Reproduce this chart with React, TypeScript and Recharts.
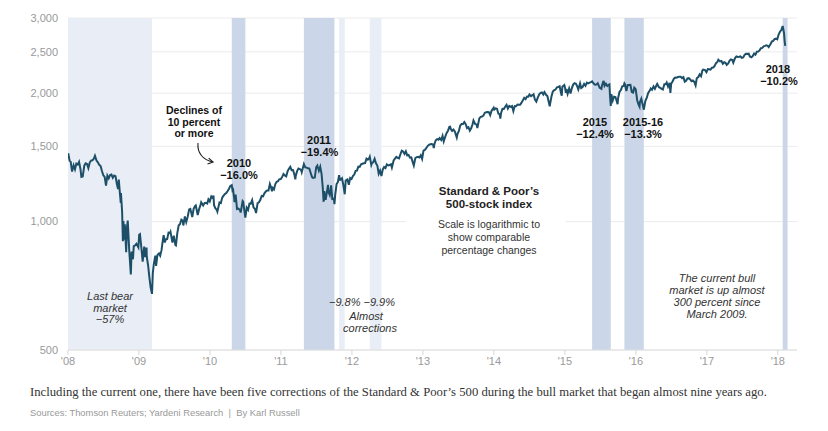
import { ComposedChart, Line, XAxis, YAxis, CartesianGrid, ReferenceArea } from "recharts";

// S&P 500 closes, roughly weekly
const y2008: [string, number][] = [
  ["01-02", 1447], ["01-09", 1390], ["01-15", 1380], ["01-22", 1310], ["01-30", 1355], ["02-06", 1326], ["02-13", 1367],
  ["02-20", 1360], ["02-27", 1380], ["03-05", 1330], ["03-10", 1273], ["03-17", 1276], ["03-25", 1352], ["04-01", 1370],
  ["04-08", 1365], ["04-15", 1334], ["04-22", 1375], ["04-29", 1390], ["05-06", 1392], ["05-13", 1403], ["05-19", 1426],
  ["05-27", 1390], ["06-03", 1377], ["06-10", 1358], ["06-17", 1350], ["06-24", 1314], ["07-01", 1284], ["07-08", 1273],
  ["07-15", 1214], ["07-22", 1282], ["07-29", 1263], ["08-05", 1285], ["08-12", 1289], ["08-19", 1266], ["08-26", 1282],
  ["09-02", 1277], ["09-09", 1225], ["09-15", 1192], ["09-19", 1255], ["09-23", 1188], ["09-29", 1106], ["09-30", 1166],
  ["10-06", 1056], ["10-10", 899], ["10-13", 1003], ["10-15", 907], ["10-20", 985], ["10-27", 848], ["10-31", 968],
  ["11-04", 1005], ["11-12", 852], ["11-20", 752], ["11-24", 851], ["12-01", 816], ["12-05", 876], ["12-12", 879],
  ["12-19", 887], ["12-29", 870],
];
const y2009: [string, number][] = [
  ["01-02", 931], ["01-06", 934], ["01-13", 871], ["01-20", 805], ["01-23", 832], ["01-28", 874], ["02-02", 825],
  ["02-09", 869], ["02-10", 827], ["02-17", 789], ["02-23", 743], ["03-02", 700], ["03-09", 677], ["03-13", 756],
  ["03-18", 794], ["03-26", 832], ["03-30", 787], ["04-06", 835], ["04-14", 842], ["04-20", 832], ["04-27", 857],
  ["05-04", 907], ["05-08", 929], ["05-14", 893], ["05-19", 909], ["05-26", 910], ["06-02", 942], ["06-09", 939],
  ["06-12", 946], ["06-22", 893], ["06-29", 927], ["07-07", 881], ["07-10", 879], ["07-17", 940], ["07-24", 979],
  ["07-31", 987], ["08-07", 1010], ["08-14", 1004], ["08-17", 979], ["08-25", 1028], ["09-01", 998], ["09-08", 1025],
  ["09-16", 1068], ["09-22", 1071], ["10-02", 1025], ["10-09", 1071], ["10-16", 1087], ["10-20", 1091], ["10-30", 1036],
  ["11-06", 1069], ["11-13", 1093], ["11-17", 1110], ["11-27", 1091], ["12-04", 1105], ["12-11", 1106], ["12-18", 1102],
  ["12-24", 1127], ["12-31", 1115],
];
const y2010: [string, number][] = [
  ["01-08", 1145], ["01-15", 1136], ["01-19", 1150], ["01-22", 1092], ["01-29", 1074], ["02-05", 1066], ["02-08", 1056],
  ["02-12", 1075], ["02-19", 1109], ["02-26", 1105], ["03-05", 1138], ["03-12", 1150], ["03-19", 1160], ["03-26", 1167],
  ["04-02", 1179], ["04-09", 1194], ["04-15", 1211], ["04-23", 1217], ["04-27", 1183], ["04-30", 1187], ["05-06", 1128],
  ["05-07", 1111], ["05-13", 1157], ["05-20", 1071], ["05-25", 1074], ["06-04", 1065], ["06-08", 1050], ["06-18", 1117],
  ["06-21", 1113], ["06-25", 1076], ["07-02", 1022], ["07-09", 1078], ["07-16", 1065], ["07-23", 1102], ["07-30", 1101],
  ["08-06", 1122], ["08-13", 1079], ["08-20", 1071], ["08-26", 1047], ["09-03", 1105], ["09-10", 1110], ["09-17", 1125],
  ["09-24", 1148], ["10-01", 1146], ["10-08", 1165], ["10-15", 1176], ["10-22", 1183], ["10-29", 1183], ["11-05", 1225],
  ["11-12", 1199], ["11-16", 1178], ["11-19", 1199], ["11-26", 1189], ["12-03", 1224], ["12-10", 1240], ["12-17", 1243],
  ["12-23", 1256], ["12-31", 1258],
];
const y2011: [string, number][] = [
  ["01-07", 1271], ["01-14", 1293], ["01-21", 1283], ["01-28", 1276], ["02-04", 1311], ["02-11", 1329], ["02-18", 1343],
  ["02-25", 1320], ["03-04", 1321], ["03-10", 1295], ["03-16", 1256], ["03-18", 1279], ["03-25", 1313], ["04-01", 1332],
  ["04-08", 1328], ["04-15", 1320], ["04-18", 1305], ["04-29", 1364], ["05-06", 1340], ["05-13", 1338], ["05-20", 1333],
  ["05-27", 1331], ["06-03", 1300], ["06-10", 1271], ["06-15", 1265], ["06-24", 1268], ["07-01", 1340], ["07-07", 1353],
  ["07-15", 1316], ["07-22", 1345], ["07-29", 1292], ["08-04", 1200], ["08-08", 1119], ["08-10", 1120], ["08-12", 1179],
  ["08-19", 1124], ["08-26", 1177], ["08-31", 1219], ["09-02", 1174], ["09-09", 1154], ["09-16", 1216], ["09-22", 1129],
  ["09-30", 1131], ["10-03", 1099], ["10-07", 1155], ["10-14", 1224], ["10-21", 1238], ["10-27", 1285], ["10-31", 1253],
  ["11-04", 1253], ["11-11", 1263], ["11-18", 1216], ["11-25", 1159], ["11-30", 1247], ["12-09", 1255], ["12-16", 1219],
  ["12-23", 1265], ["12-30", 1258],
];
const y2012: [string, number][] = [
  ["01-06", 1278], ["01-13", 1289], ["01-20", 1315], ["01-27", 1316], ["02-03", 1345], ["02-10", 1343], ["02-17", 1362],
  ["02-24", 1366], ["03-02", 1370], ["03-09", 1371], ["03-16", 1404], ["03-23", 1397], ["03-30", 1408], ["04-02", 1419],
  ["04-10", 1358], ["04-13", 1370], ["04-20", 1378], ["04-27", 1403], ["05-04", 1370], ["05-11", 1353], ["05-18", 1295],
  ["05-25", 1317], ["06-01", 1278], ["06-08", 1325], ["06-15", 1343], ["06-22", 1335], ["06-29", 1362], ["07-06", 1354],
  ["07-13", 1357], ["07-20", 1363], ["07-25", 1338], ["08-03", 1391], ["08-10", 1405], ["08-17", 1418], ["08-24", 1411],
  ["08-31", 1406], ["09-07", 1438], ["09-14", 1466], ["09-21", 1460], ["09-28", 1441], ["10-05", 1461], ["10-12", 1429],
  ["10-19", 1433], ["10-26", 1412], ["11-02", 1414], ["11-09", 1380], ["11-15", 1353], ["11-23", 1409], ["11-30", 1416],
  ["12-07", 1418], ["12-14", 1413], ["12-21", 1430], ["12-28", 1402],
];
const y2013: [string, number][] = [
  ["01-04", 1466], ["01-11", 1472], ["01-18", 1486], ["01-25", 1503], ["02-01", 1513], ["02-08", 1518], ["02-15", 1520],
  ["02-22", 1516], ["02-26", 1487], ["03-01", 1518], ["03-08", 1551], ["03-15", 1561], ["03-22", 1556], ["03-28", 1569],
  ["04-05", 1553], ["04-12", 1588], ["04-18", 1541], ["04-26", 1582], ["05-03", 1614], ["05-10", 1633], ["05-17", 1667],
  ["05-21", 1669], ["05-24", 1650], ["05-31", 1631], ["06-07", 1643], ["06-14", 1626], ["06-24", 1573], ["06-28", 1606],
  ["07-05", 1632], ["07-12", 1680], ["07-19", 1692], ["07-26", 1692], ["08-02", 1710], ["08-09", 1691], ["08-16", 1656],
  ["08-23", 1664], ["08-30", 1633], ["09-06", 1655], ["09-13", 1688], ["09-18", 1725], ["09-27", 1692], ["10-04", 1690],
  ["10-08", 1656], ["10-18", 1745], ["10-25", 1760], ["11-01", 1762], ["11-08", 1771], ["11-15", 1798], ["11-22", 1805],
  ["11-29", 1806], ["12-06", 1805], ["12-13", 1775], ["12-20", 1818], ["12-31", 1848],
];
const y2014: [string, number][] = [
  ["01-03", 1831], ["01-10", 1842], ["01-17", 1838], ["01-24", 1790], ["01-31", 1783], ["02-03", 1742], ["02-07", 1797],
  ["02-14", 1838], ["02-21", 1836], ["02-28", 1859], ["03-07", 1878], ["03-14", 1841], ["03-21", 1866], ["03-28", 1857],
  ["04-04", 1865], ["04-11", 1815], ["04-18", 1865], ["04-25", 1863], ["05-02", 1881], ["05-09", 1878], ["05-16", 1878],
  ["05-23", 1900], ["05-30", 1924], ["06-06", 1950], ["06-13", 1936], ["06-20", 1963], ["06-27", 1961], ["07-03", 1985],
  ["07-11", 1968], ["07-18", 1978], ["07-24", 1988], ["07-31", 1931], ["08-07", 1910], ["08-15", 1955], ["08-22", 1988],
  ["08-29", 2003], ["09-05", 2008], ["09-12", 1985], ["09-18", 2011], ["09-26", 1982], ["10-03", 1968], ["10-10", 1906],
  ["10-15", 1862], ["10-17", 1887], ["10-24", 1964], ["10-31", 2018], ["11-07", 2032], ["11-14", 2039], ["11-21", 2064],
  ["11-28", 2068], ["12-05", 2075], ["12-12", 2002], ["12-16", 1972], ["12-19", 2071], ["12-29", 2090],
];
const y2015: [string, number][] = [
  ["01-02", 2058], ["01-06", 2002], ["01-09", 2044], ["01-15", 1992], ["01-23", 2051], ["01-30", 1995], ["02-06", 2055],
  ["02-13", 2097], ["02-20", 2110], ["02-27", 2104], ["03-06", 2071], ["03-11", 2040], ["03-20", 2108], ["03-26", 2056],
  ["04-02", 2067], ["04-10", 2102], ["04-17", 2081], ["04-24", 2117], ["05-01", 2108], ["05-08", 2116], ["05-15", 2123],
  ["05-21", 2131], ["05-29", 2107], ["06-05", 2092], ["06-12", 2094], ["06-19", 2110], ["06-29", 2058], ["07-08", 2046],
  ["07-10", 2077], ["07-17", 2127], ["07-20", 2128], ["07-24", 2080], ["07-31", 2104], ["08-07", 2078], ["08-14", 2092],
  ["08-18", 2097], ["08-21", 1971], ["08-25", 1867], ["08-28", 1989], ["09-04", 1921], ["09-11", 1961], ["09-18", 1958],
  ["09-29", 1884], ["10-02", 1951], ["10-09", 2015], ["10-16", 2033], ["10-23", 2075], ["10-30", 2079], ["11-03", 2109],
  ["11-06", 2099], ["11-13", 2023], ["11-20", 2089], ["11-27", 2090], ["12-04", 2092], ["12-11", 2012], ["12-18", 2006],
  ["12-24", 2061], ["12-31", 2044],
];
const y2016: [string, number][] = [
  ["01-08", 1922], ["01-15", 1880], ["01-20", 1859], ["01-22", 1907], ["01-29", 1940], ["02-05", 1880], ["02-11", 1829],
  ["02-19", 1918], ["02-26", 1948], ["03-04", 1999], ["03-11", 2022], ["03-18", 2050], ["03-24", 2036], ["04-01", 2073],
  ["04-08", 2047], ["04-15", 2081], ["04-20", 2102], ["04-29", 2065], ["05-06", 2057], ["05-13", 2047], ["05-19", 2040],
  ["05-27", 2099], ["06-03", 2099], ["06-08", 2119], ["06-15", 2072], ["06-23", 2113], ["06-27", 2001], ["07-01", 2103],
  ["07-08", 2130], ["07-15", 2162], ["07-22", 2175], ["07-29", 2174], ["08-05", 2183], ["08-12", 2184], ["08-19", 2184],
  ["08-26", 2169], ["09-02", 2180], ["09-09", 2128], ["09-16", 2139], ["09-23", 2165], ["09-30", 2168], ["10-07", 2153],
  ["10-14", 2133], ["10-21", 2141], ["10-28", 2126], ["11-04", 2085], ["11-10", 2167], ["11-18", 2182], ["11-25", 2213],
  ["12-02", 2192], ["12-09", 2260], ["12-13", 2271], ["12-23", 2264], ["12-30", 2239],
];
const y2017: [string, number][] = [
  ["01-06", 2277], ["01-13", 2275], ["01-20", 2271], ["01-27", 2295], ["02-03", 2297], ["02-10", 2316], ["02-17", 2351],
  ["02-24", 2367], ["03-01", 2396], ["03-10", 2373], ["03-17", 2378], ["03-24", 2344], ["03-31", 2363], ["04-07", 2355],
  ["04-13", 2329], ["04-21", 2349], ["04-28", 2384], ["05-05", 2399], ["05-12", 2391], ["05-17", 2357], ["05-26", 2416],
  ["06-02", 2439], ["06-09", 2432], ["06-16", 2433], ["06-23", 2438], ["06-29", 2419], ["07-07", 2425], ["07-14", 2459],
  ["07-21", 2473], ["07-28", 2472], ["08-04", 2476], ["08-10", 2438], ["08-18", 2426], ["08-25", 2443], ["09-01", 2477],
  ["09-08", 2461], ["09-15", 2500], ["09-22", 2502], ["09-29", 2519], ["10-06", 2549], ["10-13", 2553], ["10-20", 2575],
  ["10-27", 2581], ["11-03", 2588], ["11-10", 2582], ["11-15", 2565], ["11-24", 2602], ["12-01", 2642], ["12-08", 2652],
  ["12-15", 2676], ["12-22", 2683], ["12-29", 2674],
];
const y2018: [string, number][] = [
  ["01-05", 2743], ["01-12", 2786], ["01-19", 2810], ["01-26", 2873], ["02-02", 2762], ["02-05", 2649], ["02-08", 2581],
];

const years = [2008, 2009, 2010, 2011, 2012, 2013, 2014, 2015, 2016, 2017, 2018];
const closesByYear = [y2008, y2009, y2010, y2011, y2012, y2013, y2014, y2015, y2016, y2017, y2018];

// declines of 10 percent or more (and the near misses)
const corrStarts = ["2008-01-01", "2010-04-23", "2011-04-29", "2011-10-27", "2012-04-02", "2015-05-21", "2015-11-03", "2018-01-26"];
const corrEnds = ["2009-03-09", "2010-07-02", "2011-10-03", "2011-11-25", "2012-06-01", "2015-08-25", "2016-02-11", "2018-02-20"];
const corrMajor = [false, true, true, false, false, true, true, true];

const yTicks = [500, 1000, 1500, 2000, 2500, 3000];

const toYear = (iso: string) => {
  const [y, m, d] = iso.split("-").map(Number);
  const s = Date.UTC(y, 0, 1);
  const e = Date.UTC(y + 1, 0, 1);
  return y + (Date.UTC(y, m - 1, d) - s) / (e - s);
};

const data = years.flatMap((yr, i) =>
  closesByYear[i].map(([md, v]) => ({ t: toYear(`${yr}-${md}`), close: v }))
);

const SANS = "'Liberation Sans', Arial, sans-serif";
const LINE = "#1d5068";

export default function App() {
  return (
    <div style={{ position: "relative", width: 828, height: 431, background: "#fff", fontFamily: SANS }}>
      <style>{`body{margin:0}`}</style>
      <ComposedChart width={828} height={380} data={data} margin={{ top: 18, right: 31, left: 0, bottom: 0 }}>
        <XAxis
          type="number"
          dataKey="t"
          domain={[2008, 2018.27]}
          ticks={years}
          tickFormatter={(v: number) => "'" + String(v).slice(2)}
          tick={{ fill: "#999", fontSize: 11, fontFamily: SANS }}
          tickLine={{ stroke: "#d6d6d6" }}
          axisLine={{ stroke: "#dedede" }}
          tickSize={5}
          tickMargin={2}
          height={30}
          allowDataOverflow
        />
        <YAxis
          scale="log"
          domain={[500, 3000]}
          ticks={yTicks}
          tickFormatter={(v: number) => v.toLocaleString("en-US")}
          tick={{ fill: "#999", fontSize: 11, fontFamily: SANS }}
          axisLine={false}
          tickLine={false}
          tickSize={8}
          tickMargin={2}
          width={68}
          allowDataOverflow
        />
        {corrStarts.map((s, i) => (
          <ReferenceArea
            key={s}
            x1={i === 0 ? 2008 : toYear(s)}
            x2={toYear(corrEnds[i])}
            y1={500}
            y2={3000}
            fill={corrMajor[i] ? "#cbd7e8" : "#e9eef6"}
            fillOpacity={1}
            stroke="none"
            ifOverflow="hidden"
          />
        ))}
        <CartesianGrid vertical={false} stroke="#e6e6e6" strokeOpacity={0.8} />
        <Line
          type="linear"
          dataKey="close"
          stroke={LINE}
          strokeWidth={2}
          dot={false}
          isAnimationActive={false}
        />
      </ComposedChart>

      <svg width={828} height={380} style={{ position: "absolute", left: 0, top: 0, pointerEvents: "none" }} fontFamily={SANS}>
        <defs>
          <marker id="ah" markerWidth="8" markerHeight="8" refX="6" refY="4" orient="auto" markerUnits="userSpaceOnUse">
            <path d="M1,1 L6,4 L1,7" fill="none" stroke="#222" strokeWidth="1.2" />
          </marker>
        </defs>
        <rect x={406} y={176} width={160} height={86} fill="#fff" />

        <g fontWeight="bold" fontSize={10.5} fill="#111" textAnchor="middle">
          <text x={194} y={114}>Declines of</text>
          <text x={194} y={126}>10 percent</text>
          <text x={194} y={137}>or more</text>
        </g>
        <path d="M198,143 C197,153 203,160 213,162" fill="none" stroke="#222" strokeWidth={1.1} markerEnd="url(#ah)" />

        <g fontWeight="bold" fontSize={11} fill="#111" textAnchor="middle">
          <text x={239} y={166.5}>2010</text>
          <text x={239} y={179}>−16.0%</text>
          <text x={319} y={144}>2011</text>
          <text x={319.5} y={156}>−19.4%</text>
          <text x={595} y={126}>2015</text>
          <text x={595} y={138}>−12.4%</text>
          <text x={643} y={126}>2015-16</text>
          <text x={643} y={138}>−13.3%</text>
          <text x={778} y={73}>2018</text>
          <text x={779} y={85}>−10.2%</text>
        </g>

        <g fontStyle="italic" fontSize={11} fill="#333" textAnchor="middle">
          <text x={110} y={299.5}>Last bear</text>
          <text x={110} y={311.5}>market</text>
          <text x={110} y={323}>−57%</text>
          <text x={362} y={306}>−9.8% −9.9%</text>
          <text x={366} y={320}>Almost</text>
          <text x={370} y={332}>corrections</text>
          <text x={717} y={281.5}>The current bull</text>
          <text x={717} y={293.5}>market is up almost</text>
          <text x={717} y={306}>300 percent since</text>
          <text x={717} y={318}>March 2009.</text>
        </g>

        <g textAnchor="middle" fill="#222">
          <text x={489} y={195} fontWeight="bold" fontSize={11.5}>Standard &amp; Poor’s</text>
          <text x={489} y={208} fontWeight="bold" fontSize={11.5}>500-stock index</text>
          <text x={489} y={228} fontSize={10.5} fill="#333">Scale is logarithmic to</text>
          <text x={489} y={241} fontSize={10.5} fill="#333">show comparable</text>
          <text x={489} y={254} fontSize={10.5} fill="#333">percentage changes</text>
        </g>
      </svg>

      <div
        style={{
          position: "absolute",
          left: 30,
          top: 385,
          fontFamily: "'Liberation Serif', 'Times New Roman', serif",
          fontSize: 12.7,
          color: "#333",
          whiteSpace: "nowrap",
        }}
      >
        Including the current one, there have been five corrections of the Standard &amp; Poor’s 500 during the bull market that began almost nine years ago.
      </div>
      <div
        style={{
          position: "absolute",
          left: 30,
          top: 407,
          fontFamily: "'Liberation Sans Narrow', " + SANS,
          fontSize: 9.4,
          color: "#999",
          whiteSpace: "nowrap",
        }}
      >
        Sources: Thomson Reuters; Yardeni Research&nbsp; |&nbsp; By Karl Russell
      </div>
    </div>
  );
}
